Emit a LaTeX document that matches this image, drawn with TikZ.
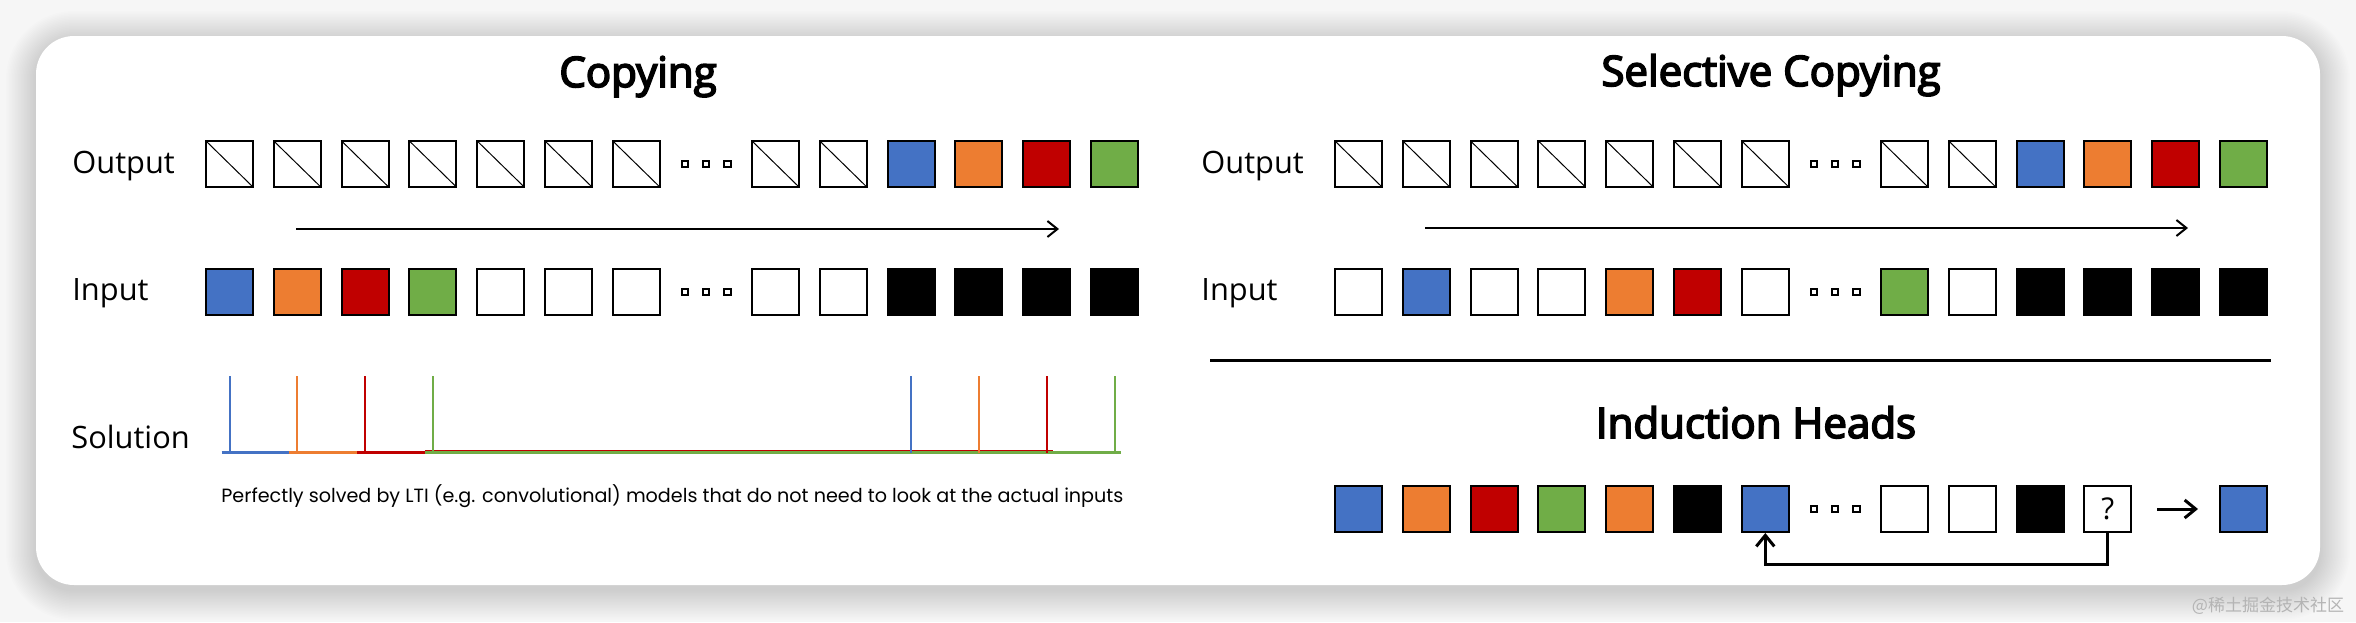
\documentclass[tikz,border=0pt]{standalone}
\usepackage{fontspec}
\setmainfont{Open Sans}
\newfontfamily\titlefont[FakeBold=4]{Open Sans}
\newfontfamily\capfont{Poppins}
\newfontfamily\cjkfont{Noto Sans CJK SC}
\usetikzlibrary{arrows.meta,calc}
\definecolor{cblue}{HTML}{4472C4}
\definecolor{corange}{HTML}{ED7D31}
\definecolor{cred}{HTML}{C00000}
\definecolor{cgreen}{HTML}{70AD47}
\definecolor{bgc}{HTML}{F6F6F6}
\definecolor{wmark}{HTML}{B4B4B4}
\tikzset{
  cell/.style={draw=black,line width=1pt,minimum width=23.5pt,minimum height=23pt,inner sep=0pt,fill=white},
  diag/.style={cell,path picture={\draw[line width=0.5pt] (path picture bounding box.north west)--(path picture bounding box.south east);}},
  fb/.style={cell,fill=cblue},
  fo/.style={cell,fill=corange},
  fr/.style={cell,fill=cred},
  fg/.style={cell,fill=cgreen},
  blk/.style={cell,fill=black},
  dotsq/.style={draw=black,line width=0.9pt,fill=white,minimum width=3.2pt,minimum height=2.8pt,inner sep=0pt},
  title/.style={font=\titlefont\fontsize{21}{25}\selectfont,anchor=base,inner sep=0pt},
  lab/.style={font=\fontsize{15.4}{18}\selectfont,anchor=base west,inner sep=0pt},
  flowarrow/.style={line width=1pt,-{Straight Barb[length=5pt,width=8pt,line width=1pt]}},
  thickarrow/.style={line width=1.5pt,-{Straight Barb[length=5.5pt,width=9pt,line width=1.5pt]}},
  spike/.style={line width=1pt},
  sbase/.style={line width=1.6pt},
}
\newcommand\cellrow[4]{%
  \foreach \s [count=\i from 0] in {#4} {
    \pgfmathsetmacro\xx{\i<7 ? #2+23.5+67.8*\i : #2+23.5+546+67.8*(\i-7)}
    \node[\s] (#1\i) at (\xx,#3) {};
  }
  \foreach \d [count=\k] in {479,500,521.5} {\node[dotsq] (#1d\k) at (#2+\d,#3) {};}
}
\begin{document}
\begin{tikzpicture}[x=0.5pt,y=-0.5pt]
\useasboundingbox (0,0) rectangle (2356,622);
\fill[bgc] (0,0) rectangle (2356,622);
% shadow
\foreach \k in {1,...,20} {
  \pgfmathsetmacro\rr{19+0.75*\k}
  \fill[black,opacity=0.007,rounded corners=\rr pt] (36-1.5*\k,36-1.5*\k+5) rectangle (2320+1.5*\k,585+1.5*\k+5);
}
% card
\fill[white,rounded corners=19pt] (36,36) rectangle (2320,585);

% titles
\node[title] (t1) at (638,87) {Copying};
\node[title] (t2) at (1771,86) {Selective Copying};
\node[title] (t3) at (1756,438) {Induction Heads};

% labels
\node[lab] (l1) at (72,173) {Output};
\node[lab] (l2) at (72,300) {Input};
\node[lab] (l3) at (71,448) {Solution};
\node[lab] (l4) at (1201,173) {Output};
\node[lab] (l5) at (1201,300) {Input};

% rows
\cellrow{lo}{206}{164}{diag,diag,diag,diag,diag,diag,diag,diag,diag,fb,fo,fr,fg}
\cellrow{li}{206}{292}{fb,fo,fr,fg,cell,cell,cell,cell,cell,blk,blk,blk,blk}
\cellrow{ro}{1335}{164}{diag,diag,diag,diag,diag,diag,diag,diag,diag,fb,fo,fr,fg}
\cellrow{ri}{1335}{292}{cell,fb,cell,cell,fo,fr,cell,fg,cell,blk,blk,blk,blk}
\cellrow{ih}{1335}{509}{fb,fo,fr,fg,fo,blk,fb,cell,cell,blk,cell}
\node[fb] (ans) at (1335+23.5+546+67.8*5,509) {};
\node[font=\fontsize{15}{18}\selectfont,inner sep=0pt] (qm) at (ih10) {?};

% time arrows
\coordinate (la1) at (296,229); \coordinate (la2) at (1059,229);
\coordinate (ra1) at (1425,228); \coordinate (ra2) at (2188,228);
\draw[flowarrow] (la1) -- (la2);
\draw[flowarrow] (ra1) -- (ra2);

% separator
\coordinate (s1) at (1210,360); \coordinate (s2) at (2271,360);
\draw[line width=1.5pt] (s1) -- (s2);

% induction arrows
\draw[thickarrow] ([xshift=12.5pt]ih10.east) -- ([xshift=-10.5pt]ans.west);
\draw[thickarrow] (ih10.south) -- ++(0,31) -| (ih6.south);

% solution
\coordinate (stop) at (0,376);
\coordinate (sb) at (0,452.5);
\coordinate (sb2) at (0,451.3);
\draw[sbase,cblue] ([xshift=-4pt]li0 |- sb) -- ([xshift=-4pt]li1 |- sb);
\draw[sbase,corange] ([xshift=-4pt]li1 |- sb) -- ([xshift=-4pt]li2 |- sb);
\draw[sbase,cred] ([xshift=-4pt]li2 |- sb) -- ([xshift=-4pt]li3 |- sb);
\draw[sbase,cred] ([xshift=-4pt]li3 |- sb2) -- ([xshift=3pt]lo11 |- sb2);
\draw[sbase,cgreen] ([xshift=-4pt]li3 |- sb) -- ([xshift=3pt]lo12 |- sb);
\foreach \a/\c in {li0/cblue,li1/corange,li2/cred,li3/cgreen,lo9/cblue,lo10/corange,lo11/cred,lo12/cgreen}
  {\draw[spike,\c] (\a |- stop) -- (\a |- sb);}
\node[anchor=base west,inner sep=0pt] (cap) at (221,502) {\resizebox{451pt}{!}{\capfont Perfectly solved by LTI (e.g. convolutional) models that do not need to look at the actual inputs}};

% watermark
\node[font=\cjkfont\fontsize{8.5}{10}\selectfont,text=wmark,inner sep=0pt] (wm) at (2268,606) {@稀土掘金技术社区};
\end{tikzpicture}
\end{document}
